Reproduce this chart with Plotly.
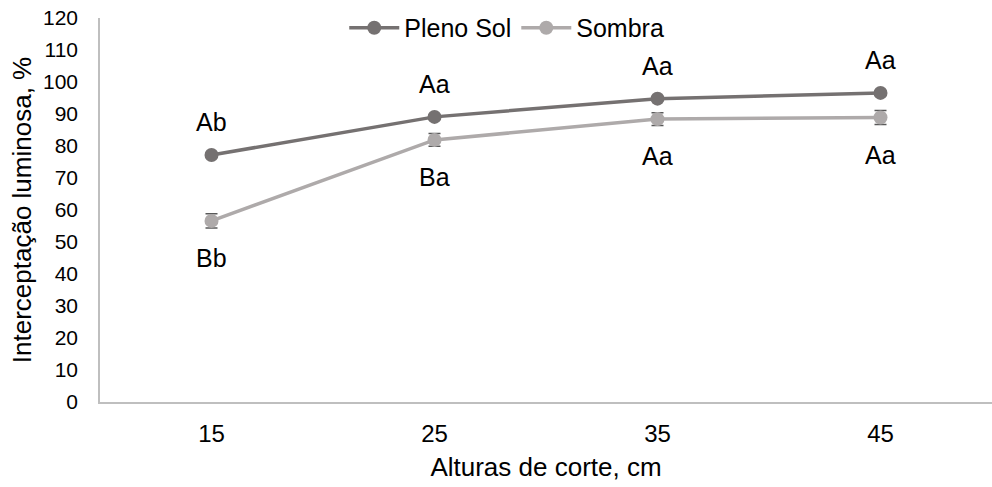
import plotly.graph_objects as go

# Cutting heights (cm) and light interception (%)
alturas = ["15", "25", "35", "45"]
pleno_sol = [77.2, 89.1, 94.8, 96.6]
pleno_sol_err = [0.6, 0.6, 0.6, 0.6]
sombra = [56.6, 81.9, 88.4, 88.9]
sombra_err = [2.2, 2.0, 2.0, 2.2]
pleno_letras = ["Ab", "Aa", "Aa", "Aa"]
sombra_letras = ["Bb", "Ba", "Aa", "Aa"]
y_ticks = list(range(0, 121, 10))

FONT = "Liberation Sans, Arial, sans-serif"
COR_SOL = "#757171"
COR_SOMBRA = "#AEAAAA"
COR_ERRO = "#595959"

xpos = list(range(len(alturas)))

fig = go.Figure()
fig.add_trace(go.Scatter(
    x=xpos, y=pleno_sol, name="Pleno Sol", mode="lines+markers",
    line=dict(color=COR_SOL, width=3.5),
    marker=dict(color=COR_SOL, size=14),
    error_y=dict(type="data", array=pleno_sol_err, color=COR_ERRO, thickness=1.5, width=6),
))
fig.add_trace(go.Scatter(
    x=xpos, y=sombra, name="Sombra", mode="lines+markers",
    line=dict(color=COR_SOMBRA, width=3.5),
    marker=dict(color=COR_SOMBRA, size=14),
    error_y=dict(type="data", array=sombra_err, color=COR_ERRO, thickness=1.5, width=6),
))

annotations = []
for xi, yi, txt in zip(xpos, pleno_sol, pleno_letras):
    annotations.append(dict(x=xi, y=yi, text=txt, showarrow=False, yshift=33,
                            font=dict(size=25, color="#000000", family=FONT)))
for xi, yi, txt in zip(xpos, sombra, sombra_letras):
    annotations.append(dict(x=xi, y=yi, text=txt, showarrow=False, yshift=-37,
                            font=dict(size=25, color="#000000", family=FONT)))

fig.update_layout(
    width=992, height=487,
    margin=dict(l=100, r=0, t=18, b=85),
    paper_bgcolor="white", plot_bgcolor="white",
    font=dict(family=FONT, color="#000000"),
    annotations=annotations,
    showlegend=True,
    legend=dict(orientation="h", x=0.456, xanchor="center", y=0.974, yanchor="middle",
                font=dict(size=25, family=FONT), bgcolor="rgba(255,255,255,0)",
                itemwidth=50, tracegroupgap=0),
    xaxis=dict(
        range=[-0.5, len(alturas) - 0.5],
        tickvals=xpos, ticktext=alturas,
        tickfont=dict(size=24, family=FONT),
        showgrid=False, zeroline=False,
        showline=True, linecolor="#BFBFBF", linewidth=1.5,
        ticks="", ticklabelstandoff=9,
        title=dict(text="Alturas de corte, cm", font=dict(size=26, family=FONT), standoff=12),
    ),
    yaxis=dict(
        range=[0, 120], tickvals=y_ticks,
        tickfont=dict(size=21, family=FONT),
        showgrid=False, zeroline=False,
        showline=True, linecolor="#BFBFBF", linewidth=1.5,
        ticks="", ticklabelstandoff=16,
        title=dict(text="Interceptação luminosa, %", font=dict(size=26, family=FONT), standoff=4),
    ),
)

fig.write_html("out.html")
